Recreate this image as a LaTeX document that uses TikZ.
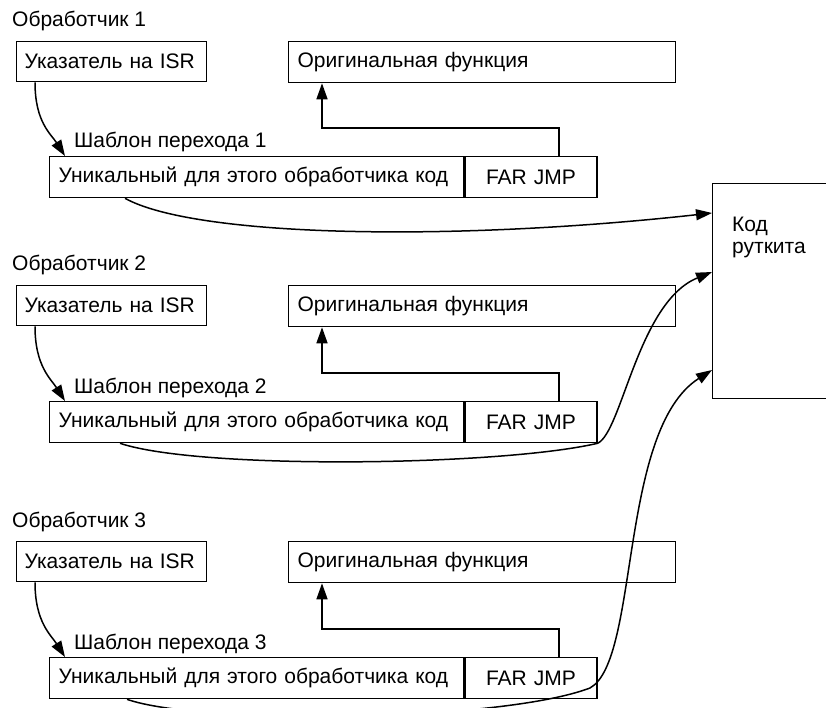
\documentclass[tikz,border=0pt]{standalone}
\usepackage{fontspec}
\setmainfont{Liberation Sans}
\usetikzlibrary{arrows.meta}
\begin{document}
\begin{tikzpicture}[x=1pt,y=-1pt,
  txt/.style={font=\fontsize{21}{21.5}\selectfont, inner sep=0pt},
  box/.style={txt, draw, line width=1.3pt, inner xsep=9pt, inner ysep=0pt,
              align=left, anchor=north west},
  conn/.style={line width=1.5pt, -{Triangle[length=16pt,width=11pt]}},
  wire/.style={line width=1.5pt}
]
\useasboundingbox (0,0) rectangle (826,708);
\clip (0,0) rectangle (826,708);

% three interrupt handlers, each with its own jump template
\foreach \i/\dy/\dt in {1/0/0, 2/244/245, 3/500/501} {
  \node[txt, anchor=base west] (h\i) at (12,27+\dy) {Обработчик \i};
  \node[box, inner xsep=8pt, text width=174pt, minimum height=40pt] (isr\i) at (16,41+\dy) {Указатель на ISR};
  \node[box, text width=369pt, minimum height=41pt] (orig\i) at (288,41+\dy) {Оригинальная функция};
  \node[box, text width=396pt, minimum height=41pt] (tpl\i) at (49,156+\dt) {Уникальный для этого обработчика код};
  \node[box, text width=114pt, minimum height=41pt, align=center] (far\i) at (tpl\i.north east) {FAR JMP};
  \node[txt, anchor=base west] (t\i) at (74,148+\dt) {Шаблон перехода \i};
  % ISR pointer into the template
  \draw[conn] ([xshift=19pt]isr\i.south west) .. controls +(0,40) and +(-14,-22) .. ([xshift=16pt]tpl\i.north west);
  % FAR JMP back to the original function
  \draw[wire, -{Triangle[length=16pt,width=11pt]}] ([xshift=28pt]far\i.north) -- ++(0,-28) -| ([xshift=34pt]orig\i.south west);
}

% rootkit code block, running off the right edge
\node[draw, line width=1.3pt, minimum width=160pt, minimum height=215pt, anchor=north west] (rk) at (712,183) {};
\node[txt, anchor=north west, align=left] (rkt) at (732,217) {Код\\руткита};

% every template hands control to the rootkit
\draw[conn] ([xshift=76pt]tpl1.south west) .. controls (195,237) and (450,242) .. ([yshift=-30pt]rk.north west);
\draw[conn] ([xshift=71pt]tpl2.south west) .. controls (200,470) and (500,466) .. (far2.south east)
  .. controls (622,432) and (638,302) .. ([yshift=-89pt]rk.north west);
\draw[conn] ([xshift=78pt]tpl3.south west) .. controls (200,725) and (500,722) .. (590,688)
  .. controls (640,660) and (618,430) .. ([yshift=-187pt]rk.north west);
\end{tikzpicture}
\end{document}
